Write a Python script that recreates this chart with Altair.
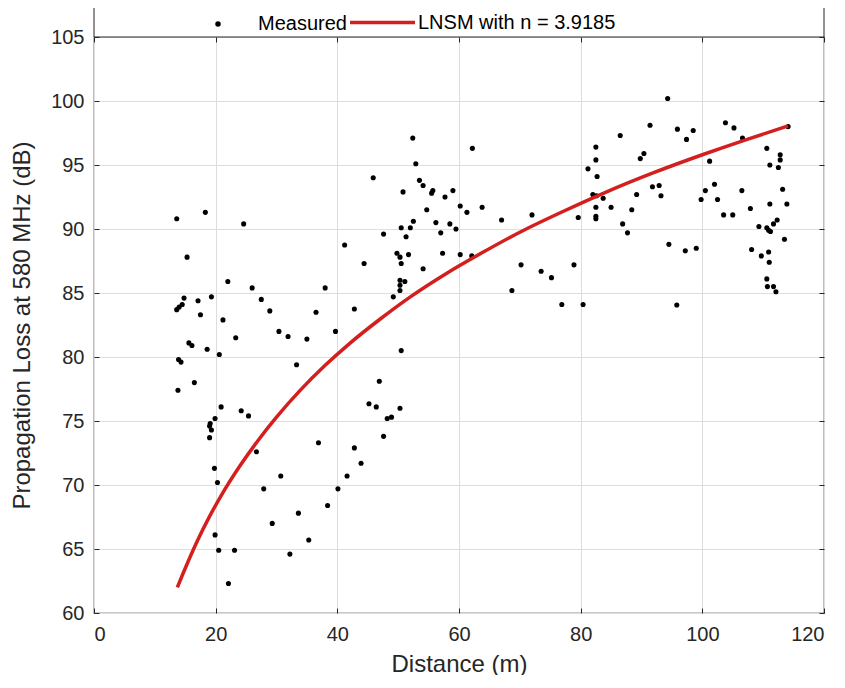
import altair as alt
import pandas as pd

# Measured points (distance in m, loss in dB)
dist = [13.6, 18.3, 24.6, 15.3, 22.0, 26.0, 14.8, 14.5, 14.0, 13.6, 17.1, 19.3, 27.5, 17.5, 28.9,
        21.2, 15.6, 16.1, 18.6, 20.6, 23.3, 30.4, 31.9, 13.9, 14.3, 33.3, 16.5, 13.8, 20.9, 24.2,
        25.4, 19.9, 19.1, 19.0, 19.3, 19.0, 26.7, 19.8, 20.3, 30.7, 27.9, 33.6, 29.3, 19.9, 20.5,
        23.1, 32.2, 22.1, 35.0, 39.7, 36.5, 42.8, 38.0,
        35.3, 38.4, 40.1, 41.6, 43.9, 42.8, 36.9, 47.6, 48.2, 48.9, 45.2, 46.4, 50.3, 46.9, 50.5,
        49.2, 50.3, 50.3, 50.3, 51.1, 54.1, 44.4, 50.5, 49.8, 50.3, 51.7, 57.3, 60.2, 62.1, 41.2,
        47.6, 51.3, 57.0, 52.5, 52.0, 50.5, 56.2, 58.5, 59.5, 54.7, 60.2, 61.3, 50.8, 57.7, 59.0,
        55.7, 55.5, 54.1, 53.5, 45.9, 52.9, 52.4, 62.2, 63.8,
        67.0, 68.7, 70.2, 72.0, 73.5, 75.2, 76.9, 78.9, 79.6, 80.4, 81.2, 82.5, 82.5, 82.7, 82.0,
        82.6, 83.7, 82.5, 82.5, 82.5, 85.0, 86.5, 86.9, 87.7, 88.4, 89.2, 89.8, 90.4, 91.4, 91.8,
        92.9, 93.2, 94.3, 94.5, 95.8, 95.9, 97.2, 97.4, 98.5, 99.0, 99.8, 100.5, 101.2, 102.0,
        102.5, 103.5, 103.8, 105.0, 105.2, 106.5, 106.6, 107.9, 108.1, 109.3, 109.7, 110.6, 110.6,
        110.9, 111.2, 111.7, 112.3, 110.9, 111.0, 110.6, 110.7, 111.7, 112.1, 111.1, 112.5, 112.8,
        112.8, 113.2, 113.5, 111.1, 113.9, 114.1]
loss = [90.8, 91.3, 90.4, 87.8, 85.9, 85.4, 84.6, 84.1, 83.9, 83.7, 84.4, 84.7, 84.5, 83.3, 83.6,
        82.9, 81.1, 80.9, 80.6, 80.2, 81.5, 82.0, 81.6, 79.8, 79.6, 79.4, 78.0, 77.4, 76.1, 75.8,
        75.4, 75.2, 74.8, 74.6, 74.3, 73.7, 72.6, 71.3, 70.2, 70.7, 69.7, 67.8, 67.0, 66.1, 64.9,
        64.9, 64.6, 62.3, 81.4, 82.0, 83.5, 83.75, 85.4,
        65.7, 68.4, 69.7, 70.7, 71.7, 72.9, 73.3, 73.8, 75.2, 75.3, 76.35, 76.1, 76.0, 78.1, 80.5,
        84.7, 85.2, 85.6, 86.0, 85.9, 86.9, 87.3, 87.3, 88.1, 87.8, 88.0, 88.1, 88.0, 87.9, 88.75,
        89.6, 89.4, 89.7, 90.6, 90.1, 90.1, 90.5, 90.4, 90.0, 91.5, 91.8, 91.3, 92.9, 92.5, 93.0,
        93.0, 92.8, 93.4, 93.8, 94.0, 95.1, 97.1, 96.3, 91.7,
        90.7, 85.2, 87.2, 91.1, 86.7, 86.2, 84.1, 87.2, 90.9, 84.1, 94.7, 96.4, 95.4, 94.1, 92.7,
        92.6, 92.4, 91.7, 91.0, 90.8, 91.7, 97.3, 90.4, 89.7, 91.5, 92.7, 95.5, 95.9, 98.1, 93.3,
        93.4, 92.6, 100.2, 88.8, 84.06, 97.8, 88.3, 97.0, 97.7, 88.5, 92.3, 93.0, 95.3, 93.5,
        92.3, 91.1, 98.3, 91.1, 97.9, 93.0, 97.1, 91.6, 88.4, 90.2, 87.9, 96.3, 90.1,
        89.9, 89.8, 90.4, 90.7, 88.2, 87.4, 86.1, 85.5, 85.5, 85.1, 95.0, 94.8, 95.8,
        95.4, 93.1, 89.2, 91.95, 91.95, 98.0]

# Fitted log-normal shadowing model curve
fit_dist = [13.7, 15, 17, 19, 21, 24, 27, 30, 34, 38, 42, 47, 52, 58, 64, 70, 77, 84, 92, 100, 107, 114.1]
fit_loss = [62.0, 63.5, 65.65, 67.55, 69.25, 71.5, 73.5, 75.3, 77.45, 79.35, 81.05, 82.95, 84.7, 86.55,
            88.2, 89.75, 91.35, 92.85, 94.4, 95.8, 96.95, 98.05]

x_ticks = [0, 20, 40, 60, 80, 100, 120]
y_ticks = [60, 65, 70, 75, 80, 85, 90, 95, 100, 105]

meas = pd.DataFrame({"Distance": dist, "Loss": loss, "series": "Measured"})
fit = pd.DataFrame({"Distance": fit_dist, "Loss": fit_loss, "series": "LNSM with n = 3.9185"})

W, H = 730, 576
FONT = "Liberation Sans"
TXT = "#262626"

xs = alt.Scale(domain=[0, 120], nice=False, zero=False)
ys = alt.Scale(domain=[60, 105], nice=False, zero=False)


def tk(vals, **kw):
    d = dict(domain=False, grid=False, ticks=True, tickSize=5, offset=-5,
             tickColor=TXT, tickWidth=1, values=vals)
    d.update(kw)
    return alt.Axis(**d)


def gridax(vals, orient):
    return alt.Axis(values=vals, orient=orient, grid=True, ticks=False, labels=False,
                    domain=False, title=None, gridColor="#dedede", gridWidth=1)


box = alt.Chart(alt.Data(values=[{}])).mark_rect(
    fill="white", stroke=TXT, strokeWidth=1
).encode(x=alt.value(0), x2=alt.value(W), y=alt.value(-32), y2=alt.value(0))

grid = alt.Chart(fit).mark_point(opacity=0).encode(
    x=alt.X("Distance:Q", scale=xs, axis=gridax(x_ticks, "bottom")),
    y=alt.Y("Loss:Q", scale=ys, axis=gridax(y_ticks, "left")),
)

points = alt.Chart(meas).mark_circle(size=26, opacity=1).encode(
    x=alt.X("Distance:Q", scale=xs,
            axis=tk(x_ticks, orient="bottom", title="Distance (m)", labelFont=FONT,
                    labelFontSize=20, labelColor=TXT, labelPadding=11, titleFont=FONT,
                    titleFontSize=24, titleFontWeight="normal", titleColor=TXT,
                    titlePadding=8)),
    y=alt.Y("Loss:Q", scale=ys,
            axis=tk(y_ticks, orient="left", title="Propagation Loss at 580 MHz (dB)",
                    labelFont=FONT, labelFontSize=20, labelColor=TXT, labelPadding=10,
                    titleFont=FONT, titleFontSize=24, titleFontWeight="normal",
                    titleColor=TXT, titlePadding=16)),
    fill=alt.Fill("series:N", scale=alt.Scale(domain=["Measured"], range=["#000000"]),
                  legend=alt.Legend(orient="none", legendX=114, legendY=-23, title=None,
                                    symbolType="circle", symbolSize=30, symbolStrokeWidth=0,
                                    labelFont=FONT, labelFontSize=20, labelColor="#000000",
                                    labelOffset=30, labelLimit=400)),
)

line = alt.Chart(fit).mark_line(strokeWidth=3.5, interpolate="monotone").encode(
    x=alt.X("Distance:Q", scale=xs, axis=tk(x_ticks, orient="top", labels=False, title=None)),
    y=alt.Y("Loss:Q", scale=ys, axis=tk(y_ticks, orient="right", labels=False, title=None)),
    stroke=alt.Stroke("series:N",
                      scale=alt.Scale(domain=["LNSM with n = 3.9185"], range=["#d41f1f"]),
                      legend=alt.Legend(orient="none", legendX=254, legendY=-49, title=None,
                                        symbolType="stroke", symbolSize=4225,
                                        symbolStrokeWidth=3.5, labelFont=FONT,
                                        labelFontSize=20, labelColor="#000000",
                                        labelOffset=1, labelLimit=400)),
)

chart = alt.layer(box, grid, points, line).resolve_axis(
    x="independent", y="independent"
).resolve_legend(fill="independent", stroke="independent").properties(
    width=W, height=H,
    autosize=alt.AutoSizeParams(type="none"),
    padding={"left": 86, "top": 29, "right": 5, "bottom": 62},
).configure_view(stroke=TXT, strokeWidth=1.2)

chart.save("out.html", embed_options={"renderer": "svg", "actions": False})
